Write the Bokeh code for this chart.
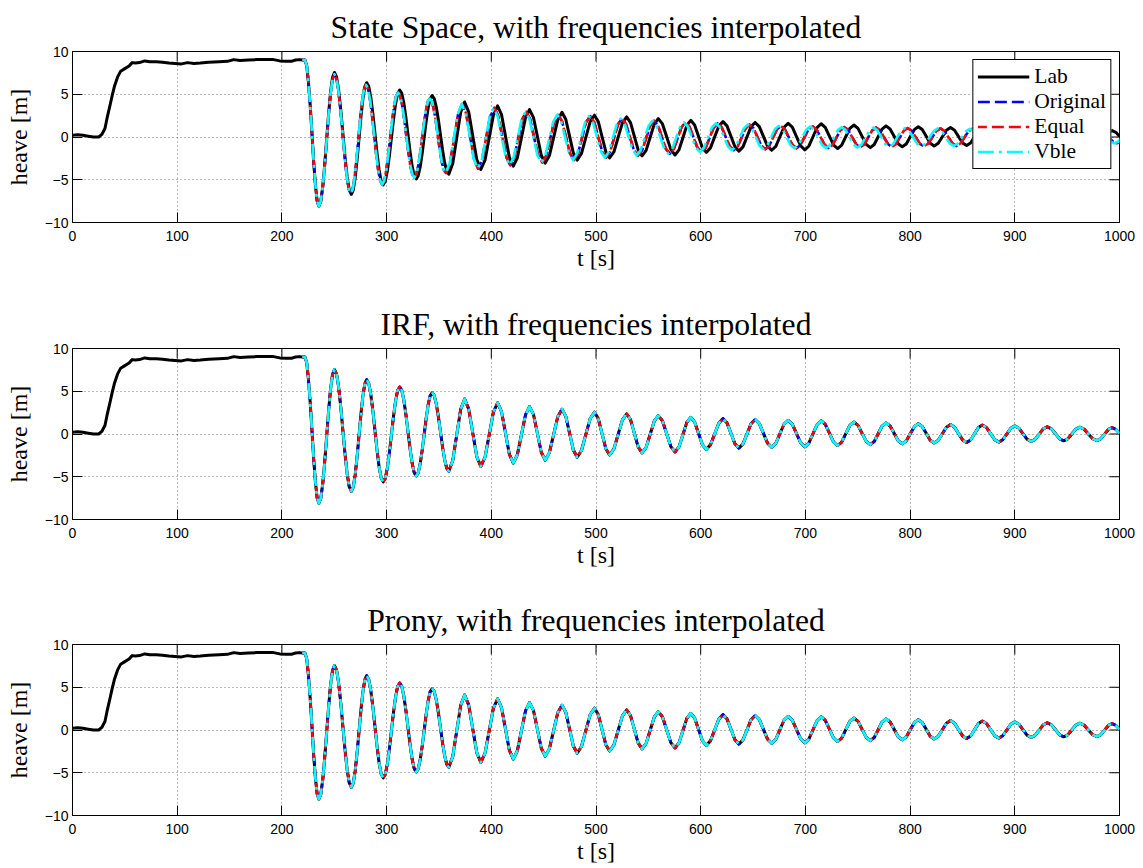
import math
from bokeh.plotting import figure
from bokeh.layouts import column
from bokeh.models import Range1d, FixedTicker
from bokeh.embed import file_html
from bokeh.resources import INLINE

# ---------------- data ----------------
x_ticks = [0, 100, 200, 300, 400, 500, 600, 700, 800, 900, 1000]
y_ticks = [-10, -5, 0, 5, 10]
y_tick_text = {-10: "\u221210", -5: "\u22125", 0: "0", 5: "5", 10: "10"}
x_limits = (0, 1000)
y_limits = (-10, 10)
titles = ["State Space, with frequencies interpolated",
          "IRF, with frequencies interpolated",
          "Prony, with frequencies interpolated"]
series_names = ["Lab", "Original", "Equal", "Vble"]

# Lab measurement (same in all three panels)
lab_t = [
    0, 5, 10, 15, 20, 25, 28, 31, 33, 36, 38, 40, 43, 46, 50, 54, 57, 60, 64, 69, 74, 80,
    86, 92, 98, 104, 110, 116, 122, 130, 140, 148, 154, 160, 168, 176, 184, 192, 198, 204,
    209, 213, 217,
    219.5, 222.0, 223.7, 225.3, 227.0, 228.7, 230.3, 232.0, 233.6,
    235.3, 237.16, 239.03, 240.89, 242.75, 244.61, 246.48, 248.34,
    250.2, 252.21, 254.23, 256.24, 258.25, 260.26, 262.28, 264.29,
    266.3, 268.14, 269.98, 271.81, 273.65, 275.49, 277.33, 279.16,
    281.0, 282.98, 284.95, 286.93, 288.9, 290.88, 292.85, 294.83,
    296.8, 298.76, 300.73, 302.69, 304.65, 306.61, 308.58, 310.54,
    312.5, 314.48, 316.45, 318.43, 320.4, 322.38, 324.35, 326.33,
    328.3, 330.2, 332.1, 334.0, 335.9, 337.8, 339.7, 341.6,
    343.5, 345.49, 347.48, 349.46, 351.45, 353.44, 355.43, 357.41,
    359.4, 363.18, 366.95, 370.73,
    374.5, 378.38, 382.25, 386.13,
    390.0, 394.0, 398.0, 402.0,
    406.0, 409.75, 413.5, 417.25,
    421.0, 424.88, 428.75, 432.63,
    436.5, 440.25, 444.0, 447.75,
    451.5, 455.5, 459.5, 463.5,
    467.5, 471.13, 474.75, 478.38,
    482.0, 486.13, 490.25, 494.38,
    498.5, 502.13, 505.75, 509.38,
    513.0, 517.08, 521.15, 525.23,
    529.3, 532.98, 536.65, 540.33,
    544.0, 547.88, 551.75, 555.63,
    559.5, 563.5, 567.5, 571.5,
    575.5, 579.25, 583.0, 586.75,
    590.5, 594.2, 597.9, 601.6,
    605.3, 609.3, 613.3, 617.3,
    621.3, 625.1, 628.9, 632.7,
    636.5, 640.38, 644.25, 648.13,
    652.0, 655.95, 659.9, 663.85,
    667.8, 671.73, 675.65, 679.58,
    683.5, 687.5, 691.5, 695.5,
    699.5, 703.38, 707.25, 711.13,
    715.0, 718.95, 722.9, 726.85,
    730.8, 734.68, 738.55, 742.43,
    746.3, 750.23, 754.15, 758.08,
    762.0, 765.75, 769.5, 773.25,
    777.0, 780.88, 784.75, 788.63,
    792.5, 796.33, 800.15, 803.98,
    807.8, 811.6, 815.4, 819.2,
    823.0, 826.9, 830.8, 834.7,
    838.6, 842.45, 846.3, 850.15,
    854.0, 857.75, 861.5, 865.25,
    869.0, 872.93, 876.85, 880.78,
    884.7, 888.53, 892.35, 896.18,
    900.0, 903.9, 907.8, 911.7,
    915.6, 919.45, 923.3, 927.15,
    931.0, 934.95, 938.9, 942.85,
    946.8, 950.6, 954.4, 958.2,
    962.0, 966.13, 970.25, 974.38,
    978.5, 982.13, 985.75, 989.38,
    993.0, 996.5, 1000.0]

lab_heave = [
    0.2, 0.25, 0.2, 0.1, 0.0, 0.0, 0.3, 1.0, 2.2, 3.8, 4.9, 5.9, 7.0, 7.7, 8.0, 8.3, 8.7, 8.65,
    8.7, 8.9, 8.8, 8.8, 8.75, 8.65, 8.6, 8.55, 8.7, 8.6, 8.65, 8.75, 8.8, 8.85, 9.05, 8.95,
    9.0, 9.05, 9.05, 9.05, 8.9, 8.85, 8.85, 9.0, 9.05,
    9.0, 9.0, 8.35, 6.49, 3.72, 0.45, -2.82, -5.59, -7.45,
    -8.1, -7.51, -5.81, -3.27, -0.28, 2.72, 5.26, 6.96,
    7.55, 7.01, 5.46, 3.15, 0.43, -2.30, -4.61, -6.16,
    -6.7, -6.2, -4.79, -2.67, -0.18, 2.32, 4.44, 5.85,
    6.35, 5.9, 4.6, 2.66, 0.38, -1.91, -3.85, -5.15,
    -5.6, -5.18, -3.97, -2.18, -0.05, 2.08, 3.87, 5.08,
    5.5, 5.1, 3.98, 2.29, 0.3, -1.69, -3.38, -4.5,
    -4.9, -4.53, -3.47, -1.89, -0.03, 1.84, 3.42, 4.48,
    4.85, 4.5, 3.5, 2.01, 0.25, -1.51, -3.0, -4.0,
    -4.35, -3.11, -0.13, 2.86,
    4.1, 2.94, 0.15, -2.64,
    -3.8, -2.71, -0.08, 2.56,
    3.65, 2.62, 0.13, -2.37,
    -3.4, -2.43, -0.1, 2.23,
    3.2, 2.29, 0.08, -2.14,
    -3.05, -2.18, -0.08, 2.03,
    2.9, 2.08, 0.1, -1.88,
    -2.7, -1.93, -0.08, 1.78,
    2.55, 1.82, 0.05, -1.72,
    -2.45, -1.75, -0.05, 1.65,
    2.35, 1.68, 0.08, -1.53,
    -2.2, -1.56, -0.03, 1.51,
    2.15, 1.53, 0.03, -1.48,
    -2.1, -1.51, -0.08, 1.36,
    1.95, 1.4, 0.08, -1.25,
    -1.8, -1.27, 0.0, 1.27,
    1.8, 1.3, 0.08, -1.15,
    -1.65, -1.16, 0.03, 1.21,
    1.7, 1.22, 0.08, -1.07,
    -1.55, -1.09, 0.03, 1.14,
    1.6, 1.15, 0.05, -1.05,
    -1.5, -1.05, 0.03, 1.1,
    1.55, 1.13, 0.1, -0.93,
    -1.35, -0.95, 0.03, 1.0,
    1.4, 1.01, 0.08, -0.86,
    -1.25, -0.88, 0.03, 0.93,
    1.3, 0.94, 0.08, -0.79,
    -1.15, -0.81, 0.03, 0.86,
    1.2, 0.87, 0.08, -0.72,
    -1.05, -0.74, 0.03, 0.79,
    1.1, 0.79, 0.05, -0.69,
    -1.0, -0.7, 0.03, 0.75,
    1.05, 0.76, 0.05, -0.66,
    -0.95, -0.67, 0.0, 0.67,
    0.95, 0.68, 0.04, -0.6,
    -0.87, -0.62, -0.01, 0.6,
    0.85, 0.61, 0.03, -0.56,
    -0.8, -0.57, 0.0, 0.57,
    0.8, 0.57, 0.01, -0.55,
    -0.78, -0.56, -0.02, 0.53,
    0.75, 0.55, 0.08]

# State-space models (top panel): Vble leads, Original/Equal lag slightly
ss_vble_t = [
    219.5, 222.0, 223.7, 225.3, 227.0, 228.7, 230.3, 232.0, 233.6,
    235.3, 237.16, 239.03, 240.89, 242.75, 244.61, 246.48, 248.34,
    250.2, 252.15, 254.1, 256.05, 258.0, 259.95, 261.9, 263.85,
    265.8, 267.61, 269.43, 271.24, 273.05, 274.86, 276.68, 278.49,
    280.3, 282.24, 284.18, 286.11, 288.05, 289.99, 291.93, 293.86,
    295.8, 297.7, 299.6, 301.5, 303.4, 305.3, 307.2, 309.1,
    311.0, 312.94, 314.88, 316.81, 318.75, 320.69, 322.63, 324.56,
    326.5, 328.35, 330.2, 332.05, 333.9, 335.75, 337.6, 339.45,
    341.3, 343.2, 345.1, 347.0, 348.9, 350.8, 352.7, 354.6,
    356.5, 360.33, 364.15, 367.98,
    371.8, 375.63, 379.45, 383.28,
    387.1, 390.9, 394.7, 398.5,
    402.3, 406.1, 409.9, 413.7,
    417.5, 421.3, 425.1, 428.9,
    432.7, 436.48, 440.25, 444.03,
    447.8, 451.58, 455.35, 459.13,
    462.9, 466.7, 470.5, 474.3,
    478.1, 481.9, 485.7, 489.5,
    493.3, 497.1, 500.9, 504.7,
    508.5, 512.28, 516.05, 519.83,
    523.6, 527.4, 531.2, 535.0,
    538.8, 542.6, 546.4, 550.2,
    554.0, 557.75, 561.5, 565.25,
    569.0, 572.75, 576.5, 580.25,
    584.0, 587.8, 591.6, 595.4,
    599.2, 603.03, 606.85, 610.68,
    614.5, 618.33, 622.15, 625.98,
    629.8, 633.6, 637.4, 641.2,
    645.0, 648.7, 652.4, 656.1,
    659.8, 663.48, 667.15, 670.83,
    674.5, 678.25, 682.0, 685.75,
    689.5, 693.25, 697.0, 700.75,
    704.5, 708.28, 712.05, 715.83,
    719.6, 723.38, 727.15, 730.93,
    734.7, 738.48, 742.25, 746.03,
    749.8, 753.6, 757.4, 761.2,
    765.0, 768.78, 772.55, 776.33,
    780.1, 783.88, 787.65, 791.43,
    795.2, 799.05, 802.9, 806.75,
    810.6, 814.58, 818.55, 822.53,
    826.5, 830.3, 834.1, 837.9,
    841.7, 845.53, 849.35, 853.18,
    857.0, 860.83, 864.65, 868.48,
    872.3, 876.13, 879.95, 883.78,
    887.6, 891.45, 895.3, 899.15,
    903.0, 906.83, 910.65, 914.48,
    918.3, 922.15, 926.0, 929.85,
    933.7, 937.53, 941.35, 945.18,
    949.0, 952.83, 956.65, 960.48,
    964.3, 968.15, 972.0, 975.85,
    979.7, 983.53, 987.35, 991.18,
    995.0, 998.8, 1002.6]

ss_orig_t = [
    219.5, 222.0, 223.7, 225.3, 227.0, 228.7, 230.3, 232.0, 233.6,
    235.3, 237.16, 239.03, 240.89, 242.75, 244.61, 246.48, 248.34,
    250.2, 252.15, 254.1, 256.05, 258.0, 259.95, 261.9, 263.85,
    265.8, 267.61, 269.43, 271.24, 273.05, 274.86, 276.68, 278.49,
    280.3, 282.24, 284.18, 286.11, 288.05, 289.99, 291.93, 293.86,
    295.8, 297.7, 299.6, 301.5, 303.4, 305.3, 307.2, 309.1,
    311.0, 312.94, 314.88, 316.81, 318.75, 320.69, 322.63, 324.56,
    326.5, 328.35, 330.2, 332.05, 333.9, 335.75, 337.6, 339.45,
    341.3, 343.2, 345.1, 347.0, 348.9, 350.8, 352.7, 354.6,
    356.8, 360.63, 364.45, 368.28,
    372.1, 375.93, 379.75, 383.58,
    387.4, 391.2, 395.0, 398.8,
    402.9, 406.7, 410.5, 414.3,
    418.1, 421.9, 425.7, 429.5,
    433.3, 437.08, 440.85, 444.63,
    448.7, 452.48, 456.25, 460.03,
    463.8, 467.6, 471.4, 475.2,
    479.0, 482.8, 486.6, 490.4,
    494.5, 498.3, 502.1, 505.9,
    509.7, 513.48, 517.25, 521.03,
    524.8, 528.6, 532.4, 536.2,
    540.3, 544.1, 547.9, 551.7,
    555.5, 559.25, 563.0, 566.75,
    570.5, 574.25, 578.0, 581.75,
    585.5, 589.3, 593.1, 596.9,
    600.9, 604.73, 608.55, 612.38,
    616.2, 620.03, 623.85, 627.68,
    631.5, 635.3, 639.1, 642.9,
    646.7, 650.4, 654.1, 657.8,
    661.8, 665.48, 669.15, 672.83,
    676.5, 680.25, 684.0, 687.75,
    691.5, 695.25, 699.0, 702.75,
    707.0, 710.78, 714.55, 718.33,
    722.1, 725.88, 729.65, 733.43,
    737.2, 740.98, 744.75, 748.53,
    752.3, 756.1, 759.9, 763.7,
    767.5, 771.28, 775.05, 778.83,
    782.6, 786.38, 790.15, 793.93,
    797.7, 801.55, 805.4, 809.25,
    813.1, 817.08, 821.05, 825.03,
    829.0, 832.8, 836.6, 840.4,
    844.2, 848.03, 851.85, 855.68,
    859.5, 863.33, 867.15, 870.98,
    874.8, 878.63, 882.45, 886.28,
    890.1, 893.95, 897.8, 901.65,
    905.5, 909.33, 913.15, 916.98,
    920.8, 924.65, 928.5, 932.35,
    936.2, 940.03, 943.85, 947.68,
    951.5, 955.33, 959.15, 962.98,
    966.8, 970.65, 974.5, 978.35,
    982.2, 986.03, 989.85, 993.68,
    997.5, 1001.3, 1005.1]

ss_heave = [
    9.0, 9.0, 8.35, 6.49, 3.72, 0.45, -2.82, -5.59, -7.45,
    -8.1, -7.51, -5.84, -3.33, -0.38, 2.58, 5.09, 6.76,
    7.35, 6.82, 5.31, 3.05, 0.38, -2.3, -4.56, -6.07,
    -6.6, -6.12, -4.74, -2.68, -0.25, 2.18, 4.24, 5.62,
    6.1, 5.66, 4.39, 2.51, 0.28, -1.96, -3.84, -5.11,
    -5.55, -5.14, -3.98, -2.23, -0.18, 1.88, 3.63, 4.79,
    5.2, 4.82, 3.74, 2.13, 0.23, -1.68, -3.29, -4.37,
    -4.75, -4.4, -3.4, -1.9, -0.13, 1.65, 3.15, 4.15,
    4.5, 4.17, 3.23, 1.82, 0.15, -1.52, -2.93, -3.87,
    -4.2, -3.02, -0.18, 2.67,
    3.85, 2.75, 0.08, -2.6,
    -3.7, -2.66, -0.15, 2.36,
    3.4, 2.42, 0.05, -2.32,
    -3.3, -2.39, -0.18, 2.04,
    2.95, 2.08, -0.03, -2.13,
    -3.0, -2.18, -0.2, 1.78,
    2.6, 1.82, -0.05, -1.92,
    -2.7, -1.95, -0.13, 1.7,
    2.45, 1.74, 0.03, -1.69,
    -2.4, -1.74, -0.13, 1.49,
    2.15, 1.52, 0.0, -1.52,
    -2.15, -1.56, -0.13, 1.31,
    1.9, 1.34, -0.03, -1.39,
    -1.95, -1.42, -0.13, 1.17,
    1.7, 1.2, -0.03, -1.25,
    -1.75, -1.26, -0.08, 1.11,
    1.6, 1.14, 0.03, -1.09,
    -1.55, -1.11, -0.05, 1.01,
    1.45, 1.03, 0.02, -1.0,
    -1.42, -1.02, -0.06, 0.9,
    1.3, 0.92, -0.01, -0.94,
    -1.32, -0.95, -0.05, 0.85,
    1.22, 0.85, -0.03, -0.91,
    -1.28, -0.93, -0.07, 0.8,
    1.15, 0.8, -0.04, -0.87,
    -1.22, -0.88, -0.06, 0.76,
    1.1, 0.77, -0.03, -0.82,
    -1.15, -0.83, -0.05, 0.73,
    1.05, 0.73, -0.03, -0.78,
    -1.1, -0.79, -0.05, 0.69,
    1.0, 0.7, -0.03, -0.75,
    -1.05, -0.76, -0.05, 0.66,
    0.95, 0.67, -0.03, -0.72,
    -1.0, -0.72, -0.05, 0.62,
    0.9, 0.63, -0.03, -0.68,
    -0.95, -0.69, -0.05, 0.59,
    0.85, 0.6, -0.03, -0.65,
    -0.9, -0.65, -0.05, 0.55,
    0.8, 0.56, -0.03, -0.61,
    -0.85, -0.62, -0.05, 0.52,
    0.75, 0.53, 0.0, -0.53,
    -0.75, -0.53, 0.0]

# IRF and Prony models coincide with the Lab record after release (t >= 219.5)
release_index = 43
irf_t = lab_t[release_index:]
irf_heave = lab_heave[release_index:]
prony_t = lab_t[release_index:]
prony_heave = lab_heave[release_index:]

# ---------------- styling / layout ----------------
SERIF = "Liberation Serif"
SANS = "Liberation Sans"
FIG_W = 1143
heights = [297, 296, 275]
tops = [49, 49, 49]
bottoms = [75, 74, 53]


def make_panel(i):
    p = figure(width=FIG_W, height=heights[i],
               x_range=Range1d(*x_limits), y_range=Range1d(*y_limits),
               output_backend="svg", toolbar_location=None,
               min_border_left=72, min_border_right=24,
               min_border_top=tops[i], min_border_bottom=bottoms[i],
               title=titles[i])
    p.title.text_font = SERIF
    p.title.text_font_size = "31.6px"
    p.title.text_font_style = "normal"
    p.title.text_color = "black"
    p.title.align = "center"
    p.title.standoff = 14

    p.background_fill_color = "white"
    p.border_fill_color = "white"
    p.outline_line_color = "black"
    p.outline_line_alpha = 1.0
    p.outline_line_width = 1

    p.xaxis.ticker = FixedTicker(ticks=x_ticks)
    p.yaxis.ticker = FixedTicker(ticks=y_ticks)
    p.yaxis.major_label_overrides = y_tick_text
    p.xgrid.ticker = FixedTicker(ticks=x_ticks)
    p.ygrid.ticker = FixedTicker(ticks=y_ticks)
    p.grid.grid_line_color = "black"
    p.grid.grid_line_alpha = 0.55
    p.grid.grid_line_dash = "1 3"
    p.grid.grid_line_width = 1

    for ax in (p.xaxis[0], p.yaxis[0]):
        ax.major_tick_in = 10
        ax.major_tick_out = 0
        ax.minor_tick_line_color = None
        ax.axis_line_color = "black"
        ax.major_tick_line_color = "black"
        ax.major_label_text_font = SANS
        ax.major_label_text_font_size = "14px"
        ax.major_label_text_color = "black"
        ax.axis_label_text_font = SERIF
        ax.axis_label_text_font_size = "24px"
        ax.axis_label_text_font_style = "normal"
        ax.axis_label_text_color = "black"
    p.xaxis.axis_label = "t [s]"
    p.yaxis.axis_label = "heave [m]"
    p.xaxis.major_label_standoff = 8
    p.xaxis.axis_label_standoff = 1
    p.yaxis.major_label_standoff = 4
    p.yaxis.axis_label_standoff = 10

    # inward tick marks on the top and right sides of the box (matlab style)
    p.ray(x=x_ticks, y=[y_limits[1]] * len(x_ticks), length=10, length_units="screen",
          angle=-math.pi / 2, line_color="black", line_width=1)
    p.ray(x=[x_limits[1]] * len(y_ticks), y=y_ticks, length=10, length_units="screen",
          angle=math.pi, line_color="black", line_width=1)
    return p


def add_series(p, model_sets, with_legend):
    kw = dict(line_join="round")
    lab_kw = dict(legend_label=series_names[0]) if with_legend else {}
    p.line(lab_t, lab_heave, line_color="black", line_width=3, **kw, **lab_kw)
    styles = [("#0000ff", "12 5", 0), ("#ff0000", "12 5", 3), ("#00ffff", "16 5 3 5", 0)]
    for (tt, hh), name, (col, dash, off) in zip(model_sets, series_names[1:], styles):
        extra = dict(legend_label=name) if with_legend else {}
        p.line(tt, hh, line_color=col, line_width=2.6, line_dash=dash,
               line_dash_offset=off, **kw, **extra)


p1 = make_panel(0)
add_series(p1, [(ss_orig_t, ss_heave), (ss_orig_t, ss_heave), (ss_vble_t, ss_heave)], True)
leg = p1.legend[0]
leg.location = "top_right"
leg.margin = 8
leg.label_text_font = SERIF
leg.label_text_font_size = "21.5px"
leg.label_text_color = "black"
leg.glyph_width = 52
leg.glyph_height = 25
leg.label_height = 25
leg.spacing = 0
leg.padding = 4
leg.label_standoff = 5
leg.border_line_color = "black"
leg.border_line_width = 1
leg.border_line_alpha = 1
leg.background_fill_color = "white"
leg.background_fill_alpha = 1.0

p2 = make_panel(1)
add_series(p2, [(irf_t, irf_heave)] * 3, False)

p3 = make_panel(2)
add_series(p3, [(prony_t, prony_heave)] * 3, False)

layout = column(p1, p2, p3, spacing=0)
open("out.html", "w").write(file_html(layout, INLINE))
